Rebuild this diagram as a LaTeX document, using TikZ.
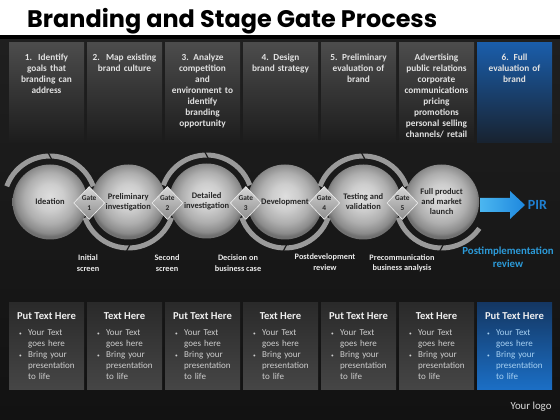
\documentclass[tikz,border=0pt]{standalone}
\usepackage{fontspec}
\usepackage{graphicx}
\setmainfont{Carlito}
\newfontfamily\titlefont{Poppins}
\usetikzlibrary{shapes.geometric,calc}

\definecolor{bgA}{HTML}{1F1F1F}
\definecolor{bgB}{HTML}{121212}
\definecolor{colA}{HTML}{4C4C4C}
\definecolor{colfade}{HTML}{1C1C1C}
\definecolor{blueA}{HTML}{1A5DAA}
\definecolor{bluefade}{HTML}{18222F}
\definecolor{boxA}{HTML}{2A2A2A}
\definecolor{boxB}{HTML}{464646}
\definecolor{bboxA}{HTML}{143763}
\definecolor{bboxB}{HTML}{1B6FC6}
\definecolor{coltxt}{HTML}{E2E2E2}
\definecolor{bultxt}{HTML}{CFCFCF}
\definecolor{bbultxt}{HTML}{A8D2F4}
\definecolor{labtxt}{HTML}{262626}
\definecolor{bandc}{HTML}{9A9A9A}
\definecolor{notchc}{HTML}{1E1E1E}
\definecolor{pirblue}{HTML}{1F80D2}
\definecolor{pimblue}{HTML}{2C9AD8}
\definecolor{arrA}{HTML}{4BB6F0}
\definecolor{arrB}{HTML}{1E88DE}
\definecolor{gateA}{HTML}{D6D6D6}
\definecolor{gateB}{HTML}{8E8E8E}
\definecolor{gateE}{HTML}{EDEDED}
\definecolor{sphA}{HTML}{DEDEDE}
\definecolor{sphB}{HTML}{CDCDCD}
\definecolor{sphC}{HTML}{AEAEAE}
\definecolor{sphD}{HTML}{8A8A8A}
\definecolor{sphE}{HTML}{707070}
\definecolor{logotxt}{HTML}{DDDDDD}

\pgfdeclareradialshading{spheresh}{\pgfpoint{0bp}{4bp}}{color(0bp)=(sphA); color(9bp)=(sphB); color(17bp)=(sphC); color(23bp)=(sphD); color(25bp)=(sphE); color(50bp)=(sphE)}

\newcommand\bulmark{\makebox[9pt][l]{\raisebox{0.6pt}{\scalebox{0.6}{\textbullet}}}}
\newcommand\bulind{\hspace*{9pt}}
\newcommand\bultexts{\bulmark Your Text\\\bulind goes here\\\bulmark Bring your\\\bulind presentation\\\bulind to life}

\begin{document}
\begin{tikzpicture}[x=1pt,y=1pt,
  colbg/.style={minimum width=75pt, minimum height=100pt, inner sep=0pt, top color=colA, bottom color=colfade},
  colbgblue/.style={colbg, top color=blueA, bottom color=bluefade},
  coltext/.style={text=coltxt, font=\fontsize{9.3}{11}\selectfont\bfseries, align=center, text width=74pt, inner sep=0pt, anchor=base},
  boxbg/.style={minimum width=75pt, minimum height=87pt, inner sep=0pt, top color=boxA, bottom color=boxB},
  boxbgblue/.style={boxbg, top color=bboxA, bottom color=bboxB},
  boxhead/.style={text=white!94!black, font=\fontsize{10.6}{12}\selectfont\bfseries, inner sep=0pt, anchor=base},
  bultext/.style={text=bultxt, font=\fontsize{9}{11}\selectfont, align=left, text width=64pt, inner sep=0pt, anchor=base west},
  sphere/.style={circle, minimum size=75pt, inner sep=0pt, shading=spheresh, text=labtxt, font=\fontsize{8.5}{10}\selectfont\bfseries, align=center},
  gate/.style={diamond, minimum width=31pt, minimum height=33pt, inner sep=0pt, top color=gateA, bottom color=gateB, draw=gateE, line width=0.6pt, text=labtxt, font=\fontsize{7.4}{9.5}\selectfont\bfseries, align=center},
  band/.style={draw=bandc, line width=5pt},
  notch/.style={draw=notchc, line width=1.2pt},
  sublabel/.style={text=white!92!black, font=\fontsize{8.3}{10.5}\selectfont\bfseries, align=center, inner sep=0pt}
]
\useasboundingbox (0,0) rectangle (560,420);
% background
\fill[white] (0,385) rectangle (560,420);
\fill[black] (0,380) rectangle (560,385);
\shade[top color=bgA, bottom color=bgB] (0,0) rectangle (560,380);
\node[anchor=base west, inner sep=0pt] (title) at (27,392) {\resizebox{410pt}{!}{\fontsize{22}{24}\selectfont\titlefont\bfseries Branding and Stage Gate Process}};

% top columns
\node[colbg] (t1) at (46.5,327) {};
\node[colbg] (t2) at (124.5,327) {};
\node[colbg] (t3) at (202.5,327) {};
\node[colbg] (t4) at (280.5,327) {};
\node[colbg] (t5) at (358.5,327) {};
\node[colbg] (t6) at (436.5,327) {};
\node[colbgblue] (t7) at (514.5,327) {};
\node[coltext] (tt1) at (46.5,359) {1.\ \ Identify\\goals that\\branding can\\address};
\node[coltext] (tt2) at (124.5,359) {2.\ \ Map existing\\brand culture};
\node[coltext] (tt3) at (202.5,359) {3. Analyze\\competition\\and\\environment to\\identify\\branding\\opportunity};
\node[coltext] (tt4) at (280.5,359) {4. Design\\brand strategy};
\node[coltext] (tt5) at (358.5,359) {5. Preliminary\\evaluation of\\brand};
\node[coltext] (tt6) at (436.5,359) {Advertising\\public relations\\corporate\\communications\\pricing\\promotions\\personal selling\\channels/ retail};
\node[coltext] (tt7) at (514.5,359) {6. Full\\evaluation of\\brand};

% spheres
\node[sphere] (c1) at (50,218) {Ideation};
\node[sphere] (c2) at (128.3,218) {Preliminary\\investigation};
\node[sphere] (c3) at (206.6,219) {Detailed\\investigation};
\node[sphere] (c4) at (285,218) {Development};
\node[sphere] (c5) at (363.3,218) {Testing and\\validation};
\node[sphere] (c6) at (441.6,218) {Full product\\and market\\launch};

% arcs
\draw[band] ($(c1.center)+(160:46)$) arc[start angle=160, end angle=20, radius=46];
\draw[band] ($(c2.center)+(200:46)$) arc[start angle=200, end angle=340, radius=46];
\draw[band] ($(c3.center)+(160:46)$) arc[start angle=160, end angle=20, radius=46];
\draw[band] ($(c4.center)+(200:46)$) arc[start angle=200, end angle=340, radius=46];
\draw[band] ($(c5.center)+(160:46)$) arc[start angle=160, end angle=20, radius=46];
\draw[band] ($(c6.center)+(200:46)$) arc[start angle=200, end angle=325, radius=46];
\draw[notch] ($(c1.center)+(88:43)$) -- ($(c1.center)+(92:49)$);
\draw[notch] ($(c2.center)+(272:43)$) -- ($(c2.center)+(268:49)$);
\draw[notch] ($(c3.center)+(88:43)$) -- ($(c3.center)+(92:49)$);
\draw[notch] ($(c4.center)+(272:43)$) -- ($(c4.center)+(268:49)$);
\draw[notch] ($(c5.center)+(88:43)$) -- ($(c5.center)+(92:49)$);
\draw[notch] ($(c6.center)+(272:43)$) -- ($(c6.center)+(268:49)$);

% gates
\node[gate] (g1) at (89.2,217) {Gate\\1};
\node[gate] (g2) at (167.4,217) {Gate\\2};
\node[gate] (g3) at (245.8,217) {Gate\\3};
\node[gate] (g4) at (324.2,217) {Gate\\4};
\node[gate] (g5) at (402.4,217) {Gate\\5};

% labels below
\node[sublabel] (l1) at (88,157) {Initial\\screen};
\node[sublabel] (l2) at (167,157) {Second\\screen};
\node[sublabel] (l3) at (238,157) {Decision on\\business case};
\node[sublabel] (l4) at (325,158) {Postdevelopment\\review};
\node[sublabel] (l5) at (402,157) {Precommunication\\business analysis};
\node[text=pimblue, font=\fontsize{10.8}{13}\selectfont\bfseries, align=center, inner sep=0pt] (l6) at (508,163) {Postimplementation\\review};

% arrow to PIR
\node[text=pirblue, font=\fontsize{14}{16}\selectfont\bfseries, inner sep=0pt] (pir) at (537.5,215) {PIR};
\shade[left color=arrA, right color=arrB] (480,222) -- (510,222) -- (510,229) -- (525,215) -- (510,201) -- (510,208) -- (480,208) -- cycle;

% bottom boxes
\node[boxbg] (b1) at (46.5,73.5) {};
\node[boxbg] (b2) at (124.5,73.5) {};
\node[boxbg] (b3) at (202.5,73.5) {};
\node[boxbg] (b4) at (280.5,73.5) {};
\node[boxbg] (b5) at (358.5,73.5) {};
\node[boxbg] (b6) at (436.5,73.5) {};
\node[boxbgblue] (b7) at (514.5,73.5) {};
\node[boxhead] (h1) at (46.5,100) {Put Text Here};
\node[boxhead] (h2) at (124.5,100) {Text Here};
\node[boxhead] (h3) at (202.5,100) {Put Text Here};
\node[boxhead] (h4) at (280.5,100) {Text Here};
\node[boxhead] (h5) at (358.5,100) {Put Text Here};
\node[boxhead] (h6) at (436.5,100) {Text Here};
\node[boxhead] (h7) at (514.5,100) {Put Text Here};
\node[bultext] (p1) at (19,84) {\bultexts};
\node[bultext] (p2) at (97,84) {\bultexts};
\node[bultext] (p3) at (175,84) {\bultexts};
\node[bultext] (p4) at (253,84) {\bultexts};
\node[bultext] (p5) at (331,84) {\bultexts};
\node[bultext] (p6) at (409,84) {\bultexts};
\node[bultext, text=bbultxt] (p7) at (487,84) {\bultexts};

\node[text=logotxt, font=\fontsize{10.8}{12}\selectfont, inner sep=0pt] (logo) at (531,13) {Your logo};
\end{tikzpicture}
\end{document}
